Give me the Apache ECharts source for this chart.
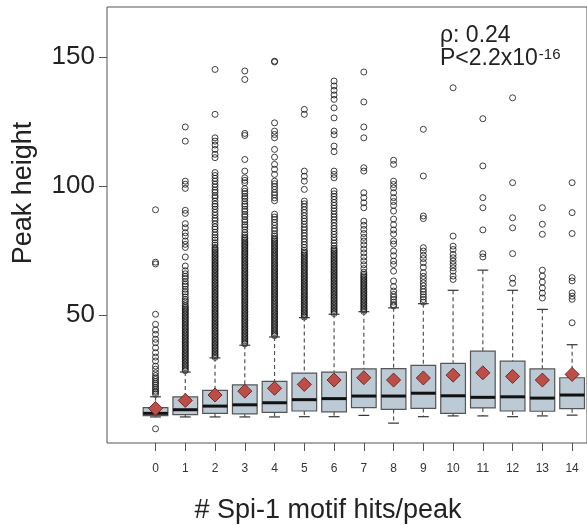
<!DOCTYPE html>
<html>
<head>
<meta charset="utf-8">
<script src="https://cdn.jsdelivr.net/npm/echarts@6/dist/echarts.min.js"></script>
<style>html,body{margin:0;padding:0;background:#fff}#c{width:587px;height:526px}</style>
</head>
<body>
<div id="c"></div>
<script>
// ---------- data ----------
const categories = ['0','1','2','3','4','5','6','7','8','9','10','11','12','13','14'];
const whiskerLow  = [10.5, 10.5, 10.5, 10.5, 10.5, 10.6, 10.6, 11.1, 8.1, 10.6, 10.9, 10.9, 10.6, 10.9, 11.2];
const q1          = [11.0, 11.4, 11.9, 11.7, 12.3, 12.8, 12.5, 14.1, 13.4, 13.8, 11.9, 14.0, 12.8, 12.7, 13.7];
const medians     = [11.9, 13.3, 14.7, 15.2, 16.0, 17.2, 17.6, 18.6, 18.6, 19.7, 18.7, 18.1, 18.3, 17.8, 19.0];
const q3          = [14.1, 18.3, 20.8, 22.9, 24.3, 27.5, 27.9, 29.1, 29.2, 30.5, 31.3, 36.0, 32.1, 29.1, 25.7];
const whiskerHigh = [18.3, 27.9, 33.4, 38.3, 41.5, 49.0, 50.3, 51.3, 52.8, 54.4, 59.6, 67.4, 59.6, 52.2, 38.5];
const means       = [13.8, 16.9, 19.0, 20.5, 21.6, 23.1, 24.8, 25.7, 24.8, 25.6, 26.7, 27.6, 26.2, 24.8, 27.0];

const out0 = [90.8, 70.5, 69.8, 50.3, 46.4, 44.2, 42.5, 40.6, 39.3, 37.3, 35.4, 33.7, 32.2, 30.2, 29.0, 27.6, 26.5, 25.7, 25.0, 24.2, 23.5, 22.8, 22.0, 21.3, 20.5, 20.0, 19.3, 5.9];
const out1 = [122.9, 117.4, 101.9, 100.7, 99.1, 90.6, 89.4, 85.4, 83.8, 81.9, 80.6, 78.7, 77.4, 76.2, 72.5, 69.0, 67.2,
  66, 65, 64.2, 63, 62, 61.2, 60, 59, 58.2, 57, 56, 55.3, 54.4, 53.6,
  53.0,52.4,51.8,51.2,50.6,50.0,49.4,48.8,48.2,47.6,47.0,46.4,45.8,45.2,44.6,44.0,43.4,42.8,42.2,41.6,41.0,40.4,39.8,39.2,38.6,38.0,37.4,36.8,36.2,35.6,35.0,34.4,33.8,33.2,32.6,32.0,31.4,30.8,30.2,29.6,29.0,28.4];
const out2 = [145.2, 127.8, 118.7, 117.4, 115.9, 114.2, 112.3, 111.0,
  105.2, 104.1, 103, 101.9, 100.7, 99.6, 98.4, 97.5, 96.3, 95.5, 94.2, 93, 92.1, 91, 89.8, 88.7, 87.5, 86.6, 85.4, 84.2, 83.3, 82.1, 81, 80, 79.1, 78, 77.1, 76.2,
  75.6,75,74.4,73.8,73.2,72.6,72,71.4,70.8,70.2,69.6,69,68.4,67.8,67.2,66.6,66,65.4,64.8,64.2,63.6,63,62.4,61.8,61.2,60.6,60,59.4,58.8,58.2,57.6,57,56.4,55.8,55.2,54.6,54,53.4,52.8,52.2,51.6,51,50.4,49.8,49.2,48.6,48,47.4,46.8,46.2,45.6,45,44.4,43.8,43.2,42.6,42,41.4,40.8,40.2,39.6,39,38.4,37.8,37.2,36.6,36,35.4,34.8,34.2,33.6];
const out3 = [144.6, 141.3, 120.4, 119.6, 110.3, 105.8, 103.2, 102.2, 101.3,
  99, 98, 97.1, 96, 95.2, 94.1, 93, 92.2, 91, 90.1, 89, 88.2, 87, 86.1, 85, 84.2, 83.1, 82, 81.1, 80.2,
  79.6,79,78.4,77.8,77.2,76.6,76,75.4,74.8,74.2,73.6,73,72.4,71.8,71.2,70.6,70,69.4,68.8,68.2,67.6,67,66.4,65.8,65.2,64.6,64,63.4,62.8,62.2,61.6,61,60.4,59.8,59.2,58.6,58,57.4,56.8,56.2,55.6,55,54.4,53.8,53.2,52.6,52,51.4,50.8,50.2,49.6,49,48.4,47.8,47.2,46.6,46,45.4,44.8,44.2,43.6,43,42.4,41.8,41.2,40.6,40,39.4,38.8];
const out4 = [148.4, 148.1, 124.5, 121.3, 120.0, 118.7, 114.2, 111.2, 108.4, 106.5, 104.5,
  101.9, 100.9, 99.8, 98.7, 97.5, 96.6, 95.4, 94.3, 89.1, 88, 87, 85.9, 84.8, 83.6, 82.7, 81.5, 80.6,
  79.8,79.2,78.6,78,77.4,76.8,76.2,75.6,75,74.4,73.8,73.2,72.6,72,71.4,70.8,70.2,69.6,69,68.4,67.8,67.2,66.6,66,65.4,64.8,64.2,63.6,63,62.4,61.8,61.2,60.6,60,59.4,58.8,58.2,57.6,57,56.4,55.8,55.2,54.6,54,53.4,52.8,52.2,51.6,51,50.4,49.8,49.2,48.6,48,47.4,46.8,46.2,45.6,45,44.4,43.8,43.2,42.6,42];
const out5 = [129.7, 127.8, 105.8, 103.8, 101.9, 98.7,
  94.2, 93.1, 92, 90.8, 89.7, 88.5, 87.4, 86.4, 85.2, 84, 83, 81.8, 80.7, 79.5, 78.4, 77.3, 76.2, 75.1,
  74.4,73.8,73.2,72.6,72,71.4,70.8,70.2,69.6,69,68.4,67.8,67.2,66.6,66,65.4,64.8,64.2,63.6,63,62.4,61.8,61.2,60.6,60,59.4,58.8,58.2,57.6,57,56.4,55.8,55.2,54.6,54,53.4,52.8,52.2,51.6,51,50.4,49.8,49.2];
const out6 = [140.7, 138.8, 137.1, 135.3, 133.6, 130.3, 126.4, 121.3, 119.9, 115.5, 113.3, 105.8, 104.5, 103.2,
  98.1, 97, 95.9, 94.8, 93.6, 92.5, 91.4, 90.3, 89.1, 88, 86.9, 85.8, 84.6, 83.5, 82.4, 81.3, 80.1, 79, 77.9, 76.8,
  75.8,75.2,74.6,74,73.4,72.8,72.2,71.6,71,70.4,69.8,69.2,68.6,68,67.4,66.8,66.2,65.6,65,64.4,63.8,63.2,62.6,62,61.4,60.8,60.2,59.6,59,58.4,57.8,57.2,56.6,56,55.4,54.8,54.2,53.6,53,52.4,51.8,51.2,50.6];
const out7 = [144.2, 132.6, 122.9, 118.7, 107.1, 105.8, 97.4, 95.5, 93.5, 91.6, 86.4, 84.8, 83.2, 81.6, 80.1, 78.7, 77.2, 75.6, 74.1, 72.5, 71, 69.5, 68, 66.6,
  65.8,65.2,64.6,64,63.4,62.8,62.2,61.6,61,60.4,59.8,59.2,58.6,58,57.4,56.8,56.2,55.6,55,54.4,53.8,53.2,52.6,52,51.4];
const out8 = [110.0, 108.4, 101.9, 100.6, 99.3, 97.4, 95.5, 94.0, 92.5, 90.3, 87.2, 85.0, 83.0, 81.4, 78.7, 77.5, 74.8, 73.0, 70.9, 69.6, 67.0, 63.2, 61.0, 59.3, 58.0, 57.0, 56.0, 55.0, 54.0, 53.5];
const out9 = [122.0, 103.9, 88.4, 87.4, 76.1, 74.8, 73.2, 71.9, 70.3, 68.5, 66.4, 65.0, 63.8, 62.5, 61.3, 60.0, 59.0, 58.0, 57.0, 56.0, 55.0];
const out10 = [138.1, 80.6, 76.7, 75.4, 73.5, 72.2, 70.9, 69.6, 68.3, 67.0, 65.1, 63.8];
const out11 = [126.1, 107.8, 95.5, 91.6, 83.0, 73.8, 72.5];
const out12 = [134.2, 101.3, 87.7, 83.8, 73.8, 64.3, 62.3];
const out13 = [91.6, 85.2, 81.3, 67.4, 65.1, 62.8, 60.5, 58.5, 56.6];
const out14 = [101.3, 89.7, 81.6, 64.5, 63.2, 58.6, 57.3, 56.1, 47.0];
const outliers = [out0, out1, out2, out3, out4, out5, out6, out7, out8, out9, out10, out11, out12, out13, out14];

const yTickMin = 50, yTickMax = 150, yTickStep = 50;
const yRange = [0.4, 169.4];

// ---------- build ----------
const FONT = 'Liberation Sans, Arial, Helvetica, sans-serif';
const boxData = categories.map((c, i) => [i, whiskerLow[i], q1[i], medians[i], q3[i], whiskerHigh[i]]);
const outData = [];
outliers.forEach((arr, i) => arr.forEach(v => outData.push([i, v])));
const meanData = means.map((m, i) => [i, m]);

const chart = echarts.init(document.getElementById('c'), null, {renderer: 'canvas'});
chart.setOption({
  animation: false,
  backgroundColor: '#ffffff',
  textStyle: {fontFamily: FONT},
  grid: [
    {left: 107, top: 7, width: 530, height: 436, show: true, borderColor: '#555', borderWidth: 1, backgroundColor: 'transparent'},
    {left: 140.65, top: 7, width: 451.5, height: 436},
    {left: 107, top: 57.06, width: 10, height: 257.98}
  ],
  xAxis: [
    {gridIndex: 0, type: 'value', show: false, min: 0, max: 1},
    {gridIndex: 1, type: 'category', data: categories, boundaryGap: true,
     axisLine: {show: false},
     axisTick: {show: true, alignWithLabel: true, length: 8, lineStyle: {color: '#555', width: 1}},
     axisLabel: {interval: 0, fontSize: 12, color: '#333', margin: 20, fontFamily: FONT},
     splitLine: {show: false}},
    {gridIndex: 2, type: 'value', show: false, min: 0, max: 1}
  ],
  yAxis: [
    {gridIndex: 0, type: 'value', show: false, min: 0, max: 1},
    {gridIndex: 1, type: 'value', show: false, min: yRange[0], max: yRange[1]},
    {gridIndex: 2, type: 'value', min: yTickMin, max: yTickMax, interval: yTickStep,
     axisLine: {show: false},
     axisTick: {show: true, length: 8, lineStyle: {color: '#555', width: 1}},
     axisLabel: {fontSize: 26, color: '#222', margin: 12, fontFamily: FONT},
     splitLine: {show: false}}
  ],
  series: [
    {
      type: 'scatter', xAxisIndex: 1, yAxisIndex: 1, data: outData, silent: true, large: false,
      symbol: 'circle', symbolSize: 6,
      itemStyle: {color: 'rgba(0,0,0,0)', borderColor: '#111', borderWidth: 1},
      z: 2
    },
    {
      type: 'custom', xAxisIndex: 1, yAxisIndex: 1, data: boxData, silent: true,
      encode: {x: 0, y: [1, 2, 3, 4, 5]},
      renderItem: function (params, api) {
        const x = api.value(0);
        const pLow = api.coord([x, api.value(1)]);
        const pQ1 = api.coord([x, api.value(2)]);
        const pMed = api.coord([x, api.value(3)]);
        const pQ3 = api.coord([x, api.value(4)]);
        const pHigh = api.coord([x, api.value(5)]);
        const bw = api.size([1, 0])[0] * 0.83;
        const cw = bw * 0.44;
        const cx = pMed[0];
        const dash = {stroke: '#555', lineWidth: 1.2, lineDash: [4, 3]};
        const cap = {stroke: '#333', lineWidth: 1.2};
        return {
          type: 'group',
          children: [
            {type: 'line', shape: {x1: cx, y1: pHigh[1], x2: cx, y2: pQ3[1]}, style: dash},
            {type: 'line', shape: {x1: cx, y1: pQ1[1], x2: cx, y2: pLow[1]}, style: dash},
            {type: 'line', shape: {x1: cx - cw / 2, y1: pHigh[1], x2: cx + cw / 2, y2: pHigh[1]}, style: cap},
            {type: 'line', shape: {x1: cx - cw / 2, y1: pLow[1], x2: cx + cw / 2, y2: pLow[1]}, style: cap},
            {type: 'rect', shape: {x: cx - bw / 2, y: pQ3[1], width: bw, height: pQ1[1] - pQ3[1]},
             style: {fill: '#bccad6', stroke: '#555', lineWidth: 1.2}},
            {type: 'line', shape: {x1: cx - bw / 2, y1: pMed[1], x2: cx + bw / 2, y2: pMed[1]},
             style: {stroke: '#111', lineWidth: 3}}
          ]
        };
      },
      z: 3
    },
    {
      type: 'scatter', xAxisIndex: 1, yAxisIndex: 1, data: meanData, silent: true,
      symbol: 'diamond', symbolSize: [14, 14],
      itemStyle: {color: '#bd4e47', borderColor: '#6e2b27', borderWidth: 1, opacity: 1},
      z: 4
    }
  ],
  graphic: [
    {type: 'text', x: 24, y: 193, rotation: Math.PI / 2,
     style: {text: 'Peak height', fontSize: 27, fontFamily: FONT, fill: '#222',
             align: 'center', verticalAlign: 'middle', textAlign: 'center', textVerticalAlign: 'middle'}},
    {type: 'text', x: 328, y: 511,
     style: {text: '# Spi-1 motif hits/peak', fontSize: 27, fontFamily: FONT, fill: '#222',
             align: 'center', verticalAlign: 'middle', textAlign: 'center', textVerticalAlign: 'middle'}},
    {type: 'text', x: 440, y: 35.5,
     style: {text: 'ρ: 0.24', fontSize: 23, fontFamily: FONT, fill: '#222',
             align: 'left', verticalAlign: 'middle', textAlign: 'left', textVerticalAlign: 'middle'}},
    {type: 'text', x: 440, y: 58.5,
     style: {text: '{b|P<2.2x10}{s|-16}', fontFamily: FONT, fill: '#222',
             align: 'left', verticalAlign: 'middle', textAlign: 'left', textVerticalAlign: 'middle',
             rich: {b: {fontSize: 23, fontFamily: FONT, fill: '#222', color: '#222'},
                    s: {fontSize: 15, fontFamily: FONT, fill: '#222', color: '#222', verticalAlign: 'top', padding: [0, 0, 0, 1]}}}}
  ]
});
</script>
</body>
</html>
